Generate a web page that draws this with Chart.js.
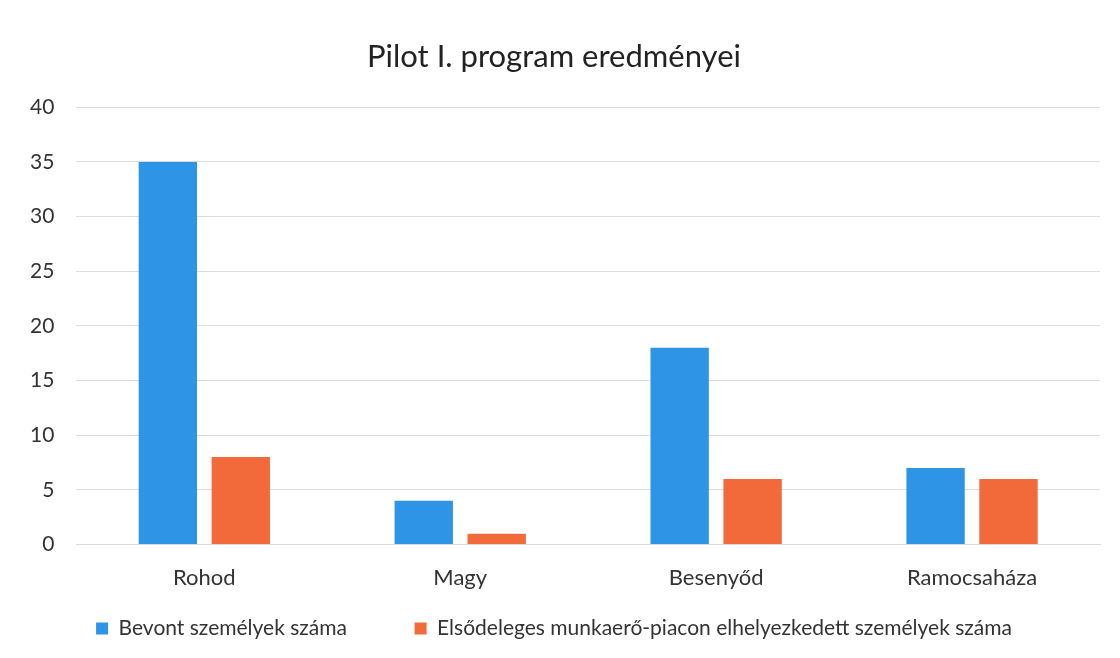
<!DOCTYPE html>
<html>
<head>
<meta charset="utf-8">
<script src="https://cdn.jsdelivr.net/npm/chart.js@4/dist/chart.umd.min.js"></script>
<style>
  html, body { margin: 0; padding: 0; background: #fff; }
  #wrap { width: 1120px; height: 658px; }
</style>
</head>
<body>
<div id="wrap"><canvas id="pilotChart" width="1120" height="658"></canvas></div>
<script>
const categories = ['Rohod', 'Magy', 'Besenyőd', 'Ramocsaháza'];
const bevont = [35, 4, 18, 7];
const elhelyezkedett = [8, 1, 6, 6];
const seriesNames = ['Bevont személyek száma', 'Elsődeleges munkaerő-piacon elhelyezkedett személyek száma'];

const fontFamily = 'Lato, "Open Sans", sans-serif';

const ctx = document.getElementById('pilotChart').getContext('2d');
new Chart(ctx, {
    type: 'bar',
    data: {
        labels: categories,
        datasets: [
            {
                label: seriesNames[0],
                data: bevont,
                backgroundColor: '#2e95e6',
                categoryPercentage: 0.57,
                barPercentage: 0.8
            },
            {
                label: seriesNames[1],
                data: elhelyezkedett,
                backgroundColor: '#f26a3a',
                categoryPercentage: 0.57,
                barPercentage: 0.8
            }
        ]
    },
    options: {
        responsive: false,
        animation: false,
        layout: {
            padding: { left: 8, right: 20, top: 38, bottom: 9 }
        },
        plugins: {
            title: {
                display: true,
                text: 'Pilot I. program eredményei',
                color: '#222',
                font: { family: fontFamily, size: 31, weight: 'normal' },
                padding: { top: 0, bottom: 32 }
            },
            legend: {
                position: 'bottom',
                labels: {
                    color: '#333',
                    font: { family: fontFamily, size: 21 },
                    boxWidth: 12,
                    boxHeight: 12,
                    padding: 15,
                    // wider gap after the first item, like the original
                    generateLabels: function(chart) {
                        const items = Chart.defaults.plugins.legend.labels.generateLabels(chart);
                        items[0].text = items[0].text + '\u2003\u2003\u2003 ';
                        return items;
                    }
                }
            },
            tooltip: { enabled: false }
        },
        scales: {
            x: {
                grid: { display: false },
                border: { color: '#d9d9d9' },
                ticks: {
                    color: '#333',
                    font: { family: fontFamily, size: 22 },
                    padding: 12
                }
            },
            y: {
                min: 0,
                max: 40,
                ticks: {
                    stepSize: 5,
                    color: '#333',
                    font: { family: fontFamily, size: 21 },
                    padding: 22
                },
                grid: { color: '#dcdcdc', drawTicks: false },
                border: { display: false }
            }
        }
    }
});
</script>
</body>
</html>
